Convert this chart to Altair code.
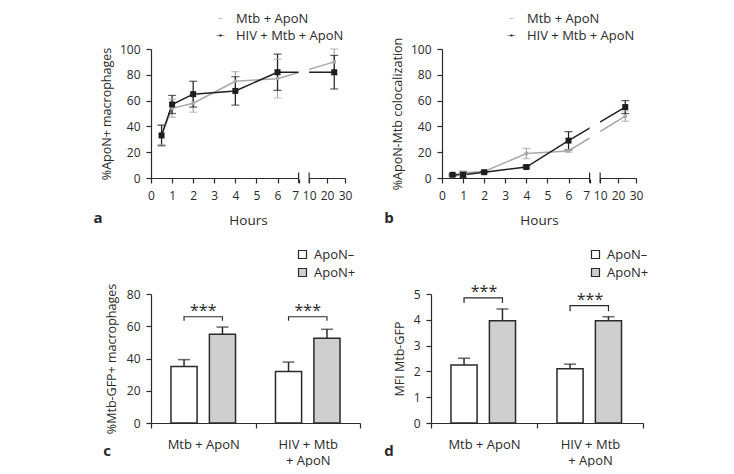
import altair as alt
import pandas as pd

# ---------------- data ----------------
hours = [0.5, 1, 2, 4, 6, 24]
series = ["Mtb + ApoN", "HIV + Mtb + ApoN"]
a_mtb = [33.5, 54, 58, 75, 77, 90]
a_mtb_sd = [7.5, 7, 7, 7.5, 15, 10]
a_hiv = [33, 57, 65, 67.5, 82, 82]
a_hiv_sd = [8, 7, 10, 11, 14, 13]
b_mtb = [2, 4, 5, 19, 21, 48]
b_mtb_sd = [0.8, 1.5, 0.8, 4, 1, 4]
b_hiv = [2.5, 2.5, 4.5, 8.5, 29, 55]
b_hiv_sd = [0.8, 2, 0.5, 0.8, 7, 5]
hour_ticks = [0, 1, 2, 3, 4, 5, 6, 7, 10, 20, 30]
pct_ticks = [0, 20, 40, 60, 80, 100]
axis_break = [7, 10]

groups = ["Mtb + ApoN", "HIV + Mtb + ApoN"]
conds = ["ApoN\u2013", "ApoN+"]
c_vals = [35, 55, 32, 52.5]
c_err = [4.3, 4.5, 5.8, 5.6]
c_top = [65.9, 65.9]
c_leg = [63.4, 63.4]
c_ticks = [0, 20, 40, 60, 80]
d_vals = [2.25, 3.96, 2.10, 3.96]
d_err = [0.26, 0.46, 0.18, 0.16]
d_top = [4.85, 4.55]
d_leg = [4.65, 4.33]
d_ticks = [0, 1, 2, 3, 4, 5]

# ---------------- style ----------------
GRAY = "#a8a8a8"
BLACK = "#1e1e1e"
INK = "#2a2a2a"
BARGRAY = "#cfcfcf"
FONT = "Open Sans"
GAP = 0.5
SEG2 = 0.085


def disp(h):
    return h if h <= 7 else 7 + GAP + (h - 10) * SEG2


DISP = f"datum.h <= 7 ? datum.h : {7 + GAP} + (datum.h - 10) * {SEG2}"
W1, H1 = 194, 129
H2 = 129

# filled legend glyph: a thin bar (the line) plus a square marker
LEG_PATH = ("M-1.33,-0.085H1.33V0.085H-1.33Z"
            "M-0.33,-0.33H0.33V0.33H-0.33Z")


def line_panel(m, msd, hv, hsd, ytitle, letter, tpad):
    n = len(hours)
    df = pd.DataFrame({
        "series": [series[0]] * n + [series[1]] * n,
        "h": hours + hours,
        "v": m + hv,
        "sd": msd + hsd,
    })
    xs = alt.Scale(domain=[0, disp(30)], nice=False, zero=False)
    xa = alt.Axis(
        values=[disp(h) for h in hour_ticks],
        labelExpr=(f"datum.value <= 7.01 ? format(datum.value, 'd') : "
                   f"format(10 + (datum.value - {7 + GAP}) / {SEG2}, 'd')"),
        labelAlign={"condition": {"test": "datum.value == 7", "value": "right"},
                    "value": "center"},
        labelOverlap=False, title="Hours", titlePadding=12, titleFontSize=13.5,
        labelPadding=7,
    )
    ys = alt.Scale(domain=[0, 100], nice=False)
    ya = alt.Axis(values=pct_ticks, title=ytitle, titlePadding=tpad)
    X = alt.X("d:Q", scale=xs, axis=xa)
    cscale = alt.Scale(domain=series, range=[GRAY, BLACK])
    leg = alt.Legend(title=None, orient="none", legendX=63, legendY=-37,
                     symbolType=LEG_PATH, symbolSize=324, symbolStrokeWidth=0,
                     labelFontSize=13, labelFont=FONT, labelColor=INK,
                     rowPadding=3, padding=0, labelOffset=9)
    col = alt.Color("series:N", scale=cscale, legend=leg)
    coln = alt.Color("series:N", scale=cscale, legend=None)
    base = alt.Chart(df).transform_calculate(
        d=DISP, lo="datum.v - datum.sd", hi="datum.v + datum.sd")
    line = base.mark_line(strokeWidth=1.5).encode(
        x=X, y=alt.Y("v:Q", scale=ys, axis=ya), color=col, order="h:Q")
    rule = base.mark_rule(strokeWidth=1.2).encode(
        x=X, y=alt.Y("lo:Q", scale=ys, axis=ya), y2="hi:Q", color=coln)
    cap_lo = base.mark_tick(orient="horizontal", size=8, thickness=1.2).encode(
        x=X, y=alt.Y("lo:Q", scale=ys, axis=ya), color=coln)
    cap_hi = base.mark_tick(orient="horizontal", size=8, thickness=1.2).encode(
        x=X, y=alt.Y("hi:Q", scale=ys, axis=ya), color=coln)
    pts = base.mark_point(shape="square", filled=True, opacity=1).encode(
        x=X, y=alt.Y("v:Q", scale=ys, axis=ya), color=coln,
        size=alt.Size("series:N", scale=alt.Scale(domain=series, range=[12, 36]),
                      legend=None))
    brk = alt.Chart(alt.Data(values=[{"h": axis_break[0], "h2": axis_break[1]}])
                    ).transform_calculate(d=DISP, d2=DISP.replace("datum.h", "datum.h2"))
    cover = brk.mark_rect(color="white").encode(
        x=X, x2="d2:Q", y=alt.value(-2), y2=alt.value(H1 + 1.5))
    marks = alt.Chart(alt.Data(values=[{"h": b} for b in axis_break])
                      ).transform_calculate(d=DISP).mark_rule(
        color=INK, strokeWidth=1.2).encode(
        x=X, y=alt.value(H1 - 5.5), y2=alt.value(H1 + 5))
    lab = alt.Chart(alt.Data(values=[{"t": letter}])).mark_text(
        font=FONT, fontSize=15, fontWeight="bold", color=INK).encode(
        text="t:N", x=alt.value(-53), y=alt.value(H1 + 40))
    return alt.layer(line, rule, cap_lo, cap_hi, pts, cover, marks, lab).properties(
        width=W1, height=H1)


def bar_panel(vals, err, top, legv, ticks, ymax, ytitle, letter, W, legx, labx, tpad):
    rows = []
    for i, g in enumerate(groups):
        for j, c in enumerate(conds):
            rows.append({"g": g, "c": c, "v": vals[2 * i + j], "e": err[2 * i + j]})
    df = pd.DataFrame(rows)
    brows = []
    for i, g in enumerate(groups):
        pts = [(conds[0], legv[i]), (conds[0], top[i]), (conds[1], top[i]), (conds[1], legv[i])]
        for k, (c, y) in enumerate(pts):
            brows.append({"g": g, "c": c, "y": y, "k": k})
    sdf = pd.DataFrame({"g": groups, "y": top})
    X = alt.X("g:N", scale=alt.Scale(domain=groups, paddingInner=0, paddingOuter=0),
              axis=alt.Axis(title=None, tickBand="extent", labelAngle=0,
                            labelPadding=10, labelLineHeight=16, labelFontSize=13,
                            labelExpr=("datum.label == 'HIV + Mtb + ApoN' ? "
                                       "['HIV + Mtb', '+ ApoN'] : datum.label")))
    XO = alt.XOffset("c:N", scale=alt.Scale(domain=conds, paddingInner=0.32,
                                            paddingOuter=0.52))
    ys = alt.Scale(domain=[0, ymax], nice=False)
    ya = alt.Axis(values=ticks, title=ytitle, titlePadding=tpad)
    fill = alt.Fill("c:N", scale=alt.Scale(domain=conds, range=["white", BARGRAY]),
                    legend=alt.Legend(title=None, orient="none", legendX=legx, legendY=-46,
                                      symbolType="square", symbolSize=64,
                                      symbolStrokeColor=INK, symbolStrokeWidth=1.2,
                                      labelFontSize=13, labelFont=FONT, labelColor=INK,
                                      rowPadding=4, padding=0, labelOffset=5))
    bars = alt.Chart(df).mark_bar(stroke=INK, strokeWidth=1.5).encode(
        x=X, xOffset=XO, y=alt.Y("v:Q", scale=ys, axis=ya), fill=fill)
    eb = alt.Chart(df).transform_calculate(hi="datum.v + datum.e")
    errs = eb.mark_rule(color=INK, strokeWidth=1.5).encode(
        x=X, xOffset=XO, y=alt.Y("v:Q", scale=ys, axis=ya), y2="hi:Q")
    caps = eb.mark_tick(orient="horizontal", size=12, thickness=1.5, color=INK).encode(
        x=X, xOffset=XO, y=alt.Y("hi:Q", scale=ys, axis=ya))
    brk = alt.Chart(pd.DataFrame(brows)).mark_line(color=INK, strokeWidth=1.2).encode(
        x=X, xOffset=XO, y=alt.Y("y:Q", scale=ys, axis=ya), detail="g:N", order="k:Q")
    stars = alt.Chart(sdf).mark_text(text="***", fontSize=16, font=FONT, color=INK,
                                     baseline="alphabetic", dy=-1).encode(
        x=X, y=alt.Y("y:Q", scale=ys, axis=ya))
    lab = alt.Chart(alt.Data(values=[{"t": letter}])).mark_text(
        font=FONT, fontSize=15, fontWeight="bold", color=INK).encode(
        text="t:N", x=alt.value(labx), y=alt.value(H2 + 28))
    return alt.layer(bars, errs, caps, brk, stars, lab).properties(width=W, height=H2)


pa = line_panel(a_mtb, a_mtb_sd, a_hiv, a_hiv_sd, "%ApoN+ macrophages", "a", 6)
pb = line_panel(b_mtb, b_mtb_sd, b_hiv, b_hiv_sd, "%ApoN-Mtb colocalization", "b", 6)
pc = bar_panel(c_vals, c_err, c_top, c_leg, c_ticks, 80, "%Mtb-GFP+ macrophages", "c",
               209, 145, -44, 8)
pd_ = bar_panel(d_vals, d_err, d_top, d_leg, d_ticks, 5, "MFI Mtb-GFP", "d",
                212, 158, -42, 7)

chart = alt.concat(
    pa, pb, pc, pd_, columns=2, align="none",
    spacing={"row": 21, "column": 23},
).resolve_scale(color="independent", size="independent", fill="independent").properties(
    padding={"left": 85, "top": 4, "right": 0, "bottom": 0}
).configure_view(stroke=None).configure_axis(
    grid=False, domainColor=INK, tickColor=INK, labelColor=INK, titleColor=INK,
    labelFont=FONT, titleFont=FONT, labelFontSize=12, titleFontSize=12.5,
    titleFontWeight="normal", tickSize=5, domainWidth=1.2, tickWidth=1.2,
).configure_axisY(labelPadding=6).configure_text(font=FONT)

chart.save("out.html", embed_options={"renderer": "svg", "actions": False})
